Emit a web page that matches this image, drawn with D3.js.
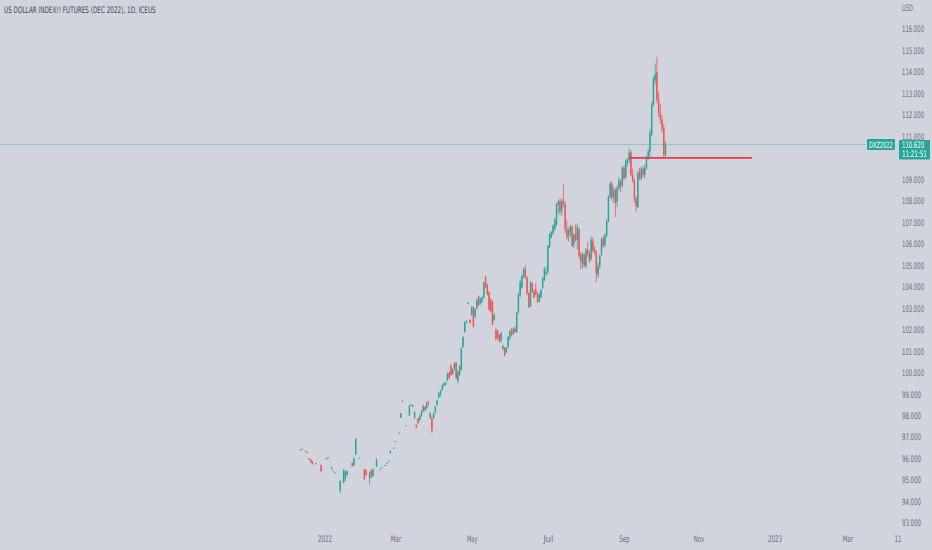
<!DOCTYPE html>
<html>
<head>
<meta charset="utf-8">
<script src="https://cdn.jsdelivr.net/npm/d3@7"></script>
<style>
  html, body { margin: 0; padding: 0; background: #d1d4dc; }
  svg { display: block; }
  text { font-family: "Liberation Sans Narrow", "DejaVu Sans Condensed", "Liberation Sans", sans-serif; }
</style>
</head>
<body>
<div id="chart"></div>
<script>
const title = "US DOLLAR INDEX!! FUTURES (DEC 2022), 1D, ICEUS";
const symbol = "DXZ2022";
const currency = "USD";
const lastPrice = 110.62;
const countdown = "11:21:51";
const levelPrice = 110.0;
const levelFrom = new Date(2022, 8, 6);
const levelTo = new Date(2022, 11, 14);

const priceTicks = [93, 94, 95, 96, 97, 98, 99, 100, 101, 102, 103, 104, 105,
  106, 107, 108, 109, 111, 112, 113, 114, 115, 116];
const tickDates = [new Date(2022, 0, 3), new Date(2022, 2, 1), new Date(2022, 4, 2),
  new Date(2022, 6, 1), new Date(2022, 8, 1), new Date(2022, 10, 1),
  new Date(2023, 0, 2), new Date(2023, 2, 1), new Date(2023, 3, 11)];
const tickLabels = ["2022", "Mar", "May", "Jul", "Sep", "Nov", "2023", "Mar", "11"];

// daily candles [open, high, low, close], one row per weekday, null = no trade
const dec21 = [null, [96.42,96.42,96.40,96.40], [96.45,96.46,96.44,96.45], null,
  [96.36,96.37,96.34,96.35], [96.30,96.31,96.29,96.30], [96.00,96.02,95.95,95.96],
  [95.95,95.98,95.80,95.82], [95.85,95.88,95.72,95.75], null, [95.78,95.80,95.76,95.78],
  null, null, [95.70,95.72,95.38,95.40], null];
const jan22 = [null, [96.00,96.02,95.98,96.00], [96.05,96.07,96.03,96.05], null,
  [95.60,95.62,95.50,95.52], [95.45,95.46,95.44,95.45], [95.35,95.36,95.33,95.35],
  null, null, [94.50,95.00,94.40,94.95], null, [94.90,95.50,94.85,95.45],
  [95.05,95.45,94.95,95.40], [95.25,95.45,95.20,95.40], null, null,
  [95.80,95.82,95.62,95.65], [95.70,96.05,95.65,96.00], [96.20,96.95,96.15,96.90],
  null, [96.05,96.06,96.04,96.05]];
const feb22 = [null, null, [95.50,95.52,95.00,95.05], [95.45,95.50,95.20,95.25], null,
  [95.05,95.40,94.80,95.35], [95.45,95.50,95.10,95.15], [95.20,95.55,95.15,95.50], null,
  [95.65,96.00,95.60,95.95], null, [95.50,95.51,95.49,95.50], [95.60,95.61,95.59,95.60],
  null, [95.70,95.71,95.69,95.70], [95.80,95.81,95.79,95.80], [95.90,95.91,95.89,95.90],
  [96.25,96.40,96.25,96.35], null, [96.50,96.51,96.49,96.50]];
const mar22 = [[96.80,96.81,96.79,96.80], null, [97.20,97.21,97.19,97.20],
  [97.90,98.12,97.90,98.10], [98.70,98.72,98.65,98.66], null, [97.55,97.56,97.54,97.55],
  null, [98.00,98.50,98.00,98.45], [98.50,98.55,98.45,98.50], [98.45,98.50,98.40,98.45],
  [97.90,98.20,97.85,98.15], [97.55,97.60,97.40,97.45], [97.85,97.90,97.60,97.65],
  [97.80,98.05,97.75,98.00], [98.00,98.25,97.95,98.20], [98.45,98.50,98.15,98.20],
  [98.25,98.45,98.20,98.40], [98.35,98.65,98.30,98.60], [98.60,98.70,98.45,98.55],
  [97.90,98.15,97.85,98.10], [97.90,97.95,97.20,97.30], [97.90,98.15,97.85,98.10]];
const apr22 = [[98.15,98.45,98.10,98.40], [98.50,98.75,98.45,98.70], [98.85,99.10,98.80,99.05],
  [99.00,99.20,98.90,99.15], [99.20,99.45,99.15,99.40], [99.40,99.55,99.35,99.50],
  [99.45,99.60,99.40,99.50], [99.65,100.00,99.60,99.95], [100.00,100.05,99.70,99.75],
  [100.30,100.40,99.85,99.90], [99.95,100.20,99.90,100.15], [100.20,100.50,100.10,100.40],
  [100.45,100.50,99.70,99.75], [99.60,100.10,99.50,100.05], [99.90,100.35,99.85,100.30],
  [100.15,101.20,100.10,101.10], [101.20,101.70,101.15,101.65], [101.90,102.40,101.85,102.35],
  [102.35,102.45,102.30,102.40], [103.25,103.30,103.20,103.25], [102.45,102.50,102.30,102.30]];
const may22 = [[102.70,103.10,102.65,103.05], [103.05,103.10,102.10,102.15],
  [102.60,103.00,102.55,102.95], [103.00,103.45,102.95,103.40], [103.55,103.60,103.10,103.15],
  [103.20,103.50,103.15,103.45], [103.30,103.55,103.25,103.50], [103.50,104.25,103.45,104.20],
  [104.45,104.50,103.95,104.00], [104.10,104.15,103.60,103.65], [103.75,103.80,102.90,102.95],
  [103.40,103.45,102.80,102.85], [103.30,103.35,102.20,102.25], [102.45,102.75,102.40,102.70],
  [102.00,102.05,101.50,101.55], [101.95,102.00,101.55,101.60], [101.75,101.80,101.40,101.45],
  [101.50,101.90,101.40,101.85], [101.10,101.30,101.05,101.25], [101.15,101.20,100.75,100.80],
  [100.95,101.20,100.90,101.15], [101.20,101.70,101.10,101.65]];
const jun22 = [[101.60,102.00,101.50,101.95], [101.95,102.10,101.70,101.75],
  [101.80,102.10,101.75,102.05], [102.05,102.15,101.85,101.90], [101.90,102.85,101.85,102.80],
  [102.80,103.70,102.75,103.65], [103.60,104.30,103.50,104.20], [103.95,104.55,103.90,104.50],
  [104.45,104.90,104.40,104.85], [104.80,105.00,104.35,104.45], [104.40,104.50,103.60,103.70],
  [103.70,103.75,103.00,103.05], [103.10,104.25,103.05,104.20], [104.15,104.20,103.70,103.75],
  [103.75,103.90,103.45,103.50], [103.90,104.15,103.60,103.65], [103.65,103.75,103.25,103.30],
  [103.30,103.70,103.25,103.65], [103.50,103.90,103.45,103.85], [103.95,104.45,103.90,104.40],
  [104.30,104.90,104.25,104.85], [104.60,104.95,104.50,104.70]];
const jul22 = [[104.70,105.95,104.60,105.90], [105.85,106.50,105.80,106.45],
  [106.30,106.60,106.25,106.55], [106.50,106.90,106.40,106.85], [106.70,107.20,106.60,107.10],
  [106.90,107.90,106.80,107.85], [107.80,108.05,107.40,107.95], [108.00,108.10,107.35,107.50],
  [107.55,108.10,107.30,108.00], [108.00,108.75,107.70,107.85], [107.85,108.00,106.50,106.70],
  [106.70,107.10,106.20,106.30], [106.40,106.75,106.10,106.60], [106.55,106.90,106.30,106.80],
  [106.80,106.85,105.85,105.90], [105.95,106.50,105.80,106.40], [106.45,106.90,106.10,106.20],
  [106.20,106.95,105.75,106.80], [106.70,106.75,105.30,105.45], [105.50,105.60,104.80,105.15],
  [105.10,105.60,104.85,105.50]];
const aug22 = [[105.50,105.55,104.90,105.00], [104.95,105.80,104.85,105.70],
  [105.75,106.10,105.40,105.50], [105.55,105.70,105.10,105.20], [105.30,106.35,105.20,106.20],
  [106.15,106.30,105.60,105.70], [105.75,105.90,105.50,105.60], [105.60,105.70,104.20,104.60],
  [104.55,105.10,104.40,104.95], [104.95,105.50,104.85,105.45], [105.50,106.30,105.45,106.20],
  [106.25,106.35,105.80,105.90], [105.95,106.50,105.85,106.40], [106.40,107.15,106.30,107.05],
  [107.05,108.25,107.00,108.20], [108.20,108.90,108.10,108.80], [108.80,108.90,108.00,108.15],
  [108.20,108.65,107.90,108.50], [108.50,108.60,107.25,107.90], [107.95,108.70,107.70,108.60],
  [108.60,109.10,108.50,108.95], [108.90,109.00,108.40,108.70], [108.70,109.60,108.60,109.50]];
const sep22 = [[109.55,109.65,108.95,109.05], [109.10,109.95,109.05,109.85],
  [109.80,110.00,109.60,109.90], [109.90,110.45,109.75,110.25], [110.25,110.35,109.15,109.20],
  [109.20,109.50,108.85,108.95], [108.95,109.05,107.90,108.10], [108.10,108.20,107.50,107.75],
  [107.70,109.40,107.65,109.30], [109.35,109.55,108.95,109.05], [109.05,109.60,108.95,109.50],
  [109.50,109.60,109.10,109.20], [109.20,109.70,109.05,109.55], [109.55,110.10,109.45,110.00],
  [110.00,110.40,109.90,110.30], [110.30,111.35,110.05,111.20], [111.10,112.60,111.00,112.50],
  [112.50,113.80,112.40,113.70], [113.60,114.40,113.40,113.90], [114.00,114.70,112.55,112.70],
  [112.70,113.10,111.90,112.10], [112.10,112.50,111.60,111.80]];
const oct22 = [[111.80,112.00,111.20,111.35], [111.35,111.60,110.00,110.15],
  [110.10,110.75,110.00,110.62]];

const monthRows = [
  [new Date(2021, 11, 13), dec21], [new Date(2022, 0, 1), jan22], [new Date(2022, 1, 1), feb22],
  [new Date(2022, 2, 1), mar22], [new Date(2022, 3, 1), apr22], [new Date(2022, 4, 1), may22],
  [new Date(2022, 5, 1), jun22], [new Date(2022, 6, 1), jul22], [new Date(2022, 7, 1), aug22],
  [new Date(2022, 8, 1), sep22], [new Date(2022, 9, 1), oct22]
];

const width = 932, height = 550;
const plotRight = 866;

// bar index axis: weekdays only, like the TradingView time scale
const days = d3.timeDay.range(new Date(2021, 11, 13), new Date(2023, 4, 1))
  .filter(d => d.getDay() !== 0 && d.getDay() !== 6);
const indexOf = new Map(days.map((d, i) => [+d, i]));

const candles = [];
monthRows.forEach(function([start, rows]) {
  const monthDays = days.filter(d => d >= start && d.getMonth() === start.getMonth()
    && d.getFullYear() === start.getFullYear());
  rows.forEach(function(r, k) {
    if (r) candles.push({ i: indexOf.get(+monthDays[k]), o: r[0], h: r[1], l: r[2], c: r[3] });
  });
});

const x = d3.scaleLinear().domain([15, 188]).range([324.6, 624]);
const y = d3.scaleLinear().domain([93, 116]).range([523, 29]);

const up = "#26a69a", down = "#ef5350";
const axisColor = "#6a6d78";

// the screenshot text is narrow: scale each label horizontally to its measured width
function squeeze(sel, perChar) {
  sel.each(function() {
    const target = this.textContent.length * perChar;
    const w = this.getComputedTextLength();
    const sx = w > 0 ? Math.min(1, target / w) : 1;
    const x0 = +this.getAttribute("x") || 0;
    this.setAttribute("x", 0);
    this.setAttribute("transform", "translate(" + x0 + ",0) scale(" + sx + ",1)");
  });
}

const svg = d3.select("#chart").append("svg")
  .attr("width", width).attr("height", height);

svg.append("rect").attr("width", width).attr("height", height).attr("fill", "#d1d4dc");

// title
svg.append("text")
  .attr("x", 4).attr("y", 13)
  .attr("font-size", 9)
  .attr("fill", "#434651")
  .text(title)
  .call(squeeze, 152 / title.length);

// last price line
svg.append("line")
  .attr("x1", 0).attr("x2", plotRight)
  .attr("y1", y(lastPrice)).attr("y2", y(lastPrice))
  .attr("stroke", "#6cbcb2").attr("stroke-width", 0.8).attr("opacity", 0.8);

// candles
const g = svg.append("g");
g.selectAll("line.wick")
  .data(candles)
  .join("line")
  .attr("class", "wick")
  .attr("x1", d => x(d.i)).attr("x2", d => x(d.i))
  .attr("y1", d => y(d.h)).attr("y2", d => y(d.l))
  .attr("stroke", d => d.c >= d.o ? up : down)
  .attr("stroke-width", 0.8);

g.selectAll("rect.body")
  .data(candles)
  .join("rect")
  .attr("class", "body")
  .attr("x", d => x(d.i) - 0.7)
  .attr("width", 1.4)
  .attr("y", d => y(Math.max(d.o, d.c)))
  .attr("height", d => Math.max(1, Math.abs(y(d.o) - y(d.c))))
  .attr("fill", d => d.c >= d.o ? up : down);

// horizontal level drawn on the chart
svg.append("line")
  .attr("x1", x(indexOf.get(+levelFrom))).attr("x2", x(indexOf.get(+levelTo)))
  .attr("y1", y(levelPrice)).attr("y2", y(levelPrice))
  .attr("stroke", "#f23645").attr("stroke-width", 1.6);

// price axis
const yAxis = svg.append("g")
  .attr("transform", "translate(899,0)")
  .call(d3.axisRight(y).tickValues(priceTicks).tickSize(0).tickPadding(3)
    .tickFormat(d3.format(".3f")));
yAxis.select(".domain").remove();
yAxis.selectAll("text")
  .attr("font-size", 9)
  .attr("fill", axisColor)
  .style("font-family", "'Liberation Sans Narrow', 'DejaVu Sans Condensed', sans-serif")
  .call(squeeze, 3.15);

svg.append("text")
  .attr("x", 902).attr("y", 11)
  .attr("font-size", 9)
  .attr("fill", axisColor)
  .text(currency)
  .call(squeeze, 3.6);

// time axis
const xAxis = svg.append("g")
  .attr("transform", "translate(0,533)")
  .call(d3.axisBottom(x).tickValues(tickDates.map(d => indexOf.get(+d)))
    .tickSize(0).tickPadding(3)
    .tickFormat((d, k) => tickLabels[k]));
xAxis.select(".domain").remove();
xAxis.selectAll("text")
  .attr("font-size", 9)
  .attr("fill", axisColor)
  .style("font-family", "'Liberation Sans Narrow', 'DejaVu Sans Condensed', sans-serif")
  .call(squeeze, 3.5);

// price scale labels
const yl = y(lastPrice);
svg.append("rect")
  .attr("x", 867).attr("y", yl - 5.5).attr("width", 28).attr("height", 11)
  .attr("rx", 1).attr("fill", up);
svg.append("text")
  .attr("x", 869).attr("y", yl + 3)
  .attr("font-size", 8.5)
  .attr("fill", "#ffffff")
  .text(symbol)
  .call(squeeze, 3.4);

svg.append("rect")
  .attr("x", 899).attr("y", yl - 4.5).attr("width", 31).attr("height", 19.5)
  .attr("rx", 1).attr("fill", up);
svg.append("text")
  .attr("x", 902).attr("y", yl + 3)
  .attr("font-size", 9)
  .attr("fill", "#ffffff")
  .text(d3.format(".3f")(lastPrice))
  .call(squeeze, 3.15);
svg.append("text")
  .attr("x", 902).attr("y", yl + 12)
  .attr("font-size", 9)
  .attr("fill", "#ffffff")
  .text(countdown)
  .call(squeeze, 3.1);
</script>
</body>
</html>
